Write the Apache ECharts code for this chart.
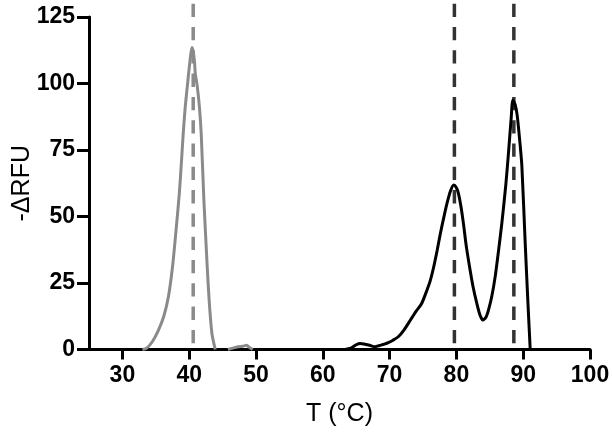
<!DOCTYPE html>
<html>
<head>
<meta charset="utf-8">
<script src="https://cdn.jsdelivr.net/npm/echarts@6/dist/echarts.min.js"></script>
<style>html,body{margin:0;padding:0;background:#fff;}#c{width:613px;height:437px;}</style>
</head>
<body>
<div id="c"></div>
<script>
var xTicks = [30, 40, 50, 60, 70, 80, 90, 100];
var yTicks = [0, 25, 50, 75, 100, 125];

var greyPeak = [[33.0,0],[33.6,0.4],[34.5,3],[35.4,7.3],[36.2,12.5],[36.9,20],[37.5,31],[38.0,44],[38.5,58],[38.8,69],[39.1,81],[39.4,91],[39.8,101],[40.1,108],[40.4,113.5],[40.6,112],[40.8,108],[40.9,104],[41.2,99],[41.5,92],[41.8,81],[42.2,56],[42.7,31],[43.0,18],[43.4,6],[43.9,0]];
var greyBump = [[45.8,0],[46.5,0.5],[47.3,1.0],[48.0,1.2],[48.6,1.6],[49.0,0.8],[49.5,0]];
var blackCurve = [[63.3,0],[64.2,0.5],[65.0,1.8],[65.6,2.3],[66.3,2.0],[67.0,1.6],[67.8,1.0],[68.5,1.5],[69.2,2.0],[69.8,2.6],[70.5,3.5],[71.3,4.8],[72.2,7.5],[73.1,11],[74.0,14.5],[74.8,17.3],[75.6,22.4],[76.1,26],[76.6,31],[77.1,37],[77.6,43.6],[78.1,49.5],[78.6,55],[79.1,59.5],[79.6,61.8],[80.0,60.8],[80.3,58.7],[80.7,53.5],[81.05,47.4],[81.5,38.5],[82.05,29.9],[82.5,23.5],[83.05,17.4],[83.5,13.2],[83.95,11.1],[84.4,12.0],[84.8,14.8],[85.3,20],[85.8,27.3],[86.3,37],[86.8,47.4],[87.4,62],[87.8,74],[88.2,87],[88.45,93.7],[88.8,92],[89.1,88],[89.5,78],[89.8,69],[90.3,40],[90.7,18],[91.05,0]];
var greyMarks = [40.6];
var blackMarks = [79.7, 88.6];
var markTop = 130;

function vline(x) { return [[x, markTop], [x, 0]]; }

var series = [];
greyMarks.forEach(function (x) {
  series.push({ type: 'line', data: vline(x), clip: false, symbol: 'none', silent: true, z: 1,
    lineStyle: { color: '#8a8a8a', width: 3.5, type: [13.3, 10] } });
});
blackMarks.forEach(function (x) {
  series.push({ type: 'line', data: vline(x), clip: false, symbol: 'none', silent: true, z: 1,
    lineStyle: { color: '#333333', width: 3.5, type: [13.3, 10] } });
});
series.push({ type: 'line', data: greyPeak, smooth: 0.25, symbol: 'none', z: 3,
  lineStyle: { color: '#8a8a8a', width: 3 } });
series.push({ type: 'line', data: greyBump, smooth: 0.3, symbol: 'none', z: 3,
  lineStyle: { color: '#8a8a8a', width: 3 } });
series.push({ type: 'line', data: blackCurve, smooth: 0.25, symbol: 'none', z: 3,
  lineStyle: { color: '#000000', width: 3 } });

var font = 'Liberation Sans, Arial, sans-serif';
var chart = echarts.init(document.getElementById('c'), null, { renderer: 'canvas' });
chart.setOption({
  animation: false,
  backgroundColor: '#ffffff',
  grid: { left: 89, right: 23, top: 17, bottom: 87.5, containLabel: false, outerBoundsMode: 'none' },
  xAxis: {
    type: 'value', min: 25, max: 100,
    name: 'T (°C)', nameLocation: 'middle', nameGap: 52, nameMoveOverlap: false,
    nameTextStyle: { fontFamily: font, fontSize: 25, color: '#000' },
    axisLine: { show: true, lineStyle: { color: '#000', width: 3 } },
    axisTick: { show: true, length: 10, customValues: xTicks, lineStyle: { color: '#000', width: 3 } },
    axisLabel: { margin: 15, customValues: xTicks, fontFamily: font, fontWeight: 'bold', fontSize: 23, color: '#000' },
    splitLine: { show: false }
  },
  yAxis: {
    type: 'value', min: 0, max: 125, interval: 25,
    name: '-ΔRFU', nameLocation: 'middle', nameGap: 54, nameRotate: 90, nameMoveOverlap: false,
    nameTextStyle: { fontFamily: font, fontSize: 25, color: '#000' },
    axisLine: { show: true, lineStyle: { color: '#000', width: 3 } },
    axisTick: { show: true, length: 12, customValues: yTicks, lineStyle: { color: '#000', width: 3 } },
    axisLabel: { margin: 14, customValues: yTicks, fontFamily: font, fontWeight: 'bold', fontSize: 23, color: '#000' },
    splitLine: { show: false }
  },
  series: series
});
</script>
</body>
</html>
